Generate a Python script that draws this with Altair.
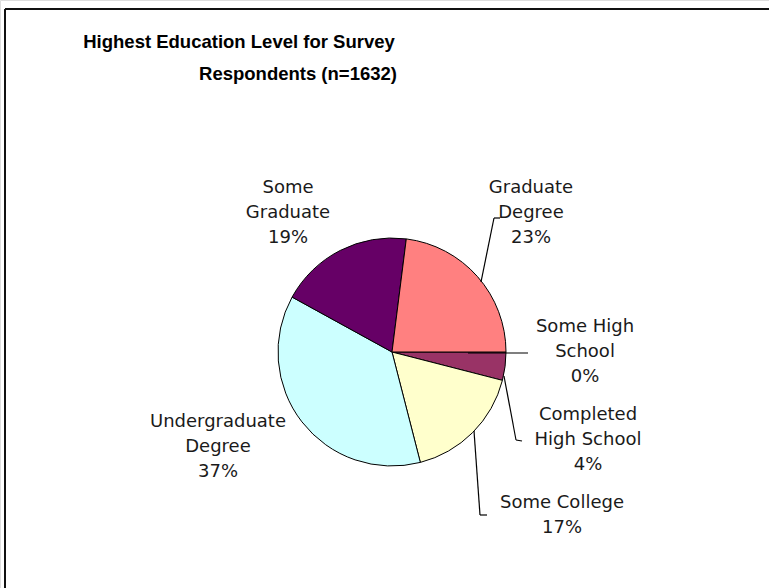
import math
import altair as alt
import pandas as pd

# ---- data ----
categories = ["Some High School", "Completed High School", "Some College",
              "Undergraduate Degree", "Some Graduate", "Graduate Degree"]
percents = [0, 4, 17, 37, 19, 23]
label_text = ["Some High\nSchool", "Completed\nHigh School", "Some College",
              "Undergraduate\nDegree", "Some\nGraduate", "Graduate\nDegree"]
title_lines = ["Highest Education Level for Survey", "Respondents (n=1632)"]

# ---- styles / layout ----
colors = ["#9999FF", "#993366", "#FFFFCC", "#CCFFFF", "#660066", "#FF8080"]
W, H = 769, 588
CX, CY, R = 392, 352, 114
label_x = [585, 588, 562, 218, 288, 531]
label_y = [327, 415, 503, 422, 188, 188]   # first-line centres
title_x = [239, 298]
title_y = [42, 74]
leaders = [  # x, y, x2, y2
    (481, 282, 494, 218), (494, 218, 500, 218),
    (468, 353, 528, 353),
    (504, 376, 516, 440), (516, 440, 522, 441),
    (474, 431, 480, 515), (480, 515, 487, 515),
]
frame = [(5, 9, W, 9), (5, 9, 5, H)]

pie_df = pd.DataFrame({"cat": categories, "pct": percents, "idx": range(len(categories))})
lab_df = pd.DataFrame({
    "txt": [f"{t}\n{p}%" for t, p in zip(label_text, percents)],
    "lx": label_x, "ly": label_y,
})
title_df = pd.DataFrame({"txt": title_lines, "tx": title_x, "ty": title_y})
lead_df = pd.DataFrame(leaders, columns=["x", "y", "x2", "y2"])
frame_df = pd.DataFrame(frame, columns=["x", "y", "x2", "y2"])

pie = alt.Chart(pie_df).mark_arc(outerRadius=R, stroke="black", strokeWidth=1).encode(
    theta=alt.Theta("pct:Q", stack=True,
                    scale=alt.Scale(range=[math.pi / 2, math.pi / 2 + 2 * math.pi])),
    color=alt.Color("cat:N", scale=alt.Scale(domain=categories, range=colors), legend=None),
    order=alt.Order("idx:Q"),
    x=alt.value(CX), y=alt.value(CY),
)

lead = alt.Chart(lead_df).mark_rule(color="black", strokeWidth=1.2).encode(
    x=alt.X("x:Q", scale=None), y=alt.Y("y:Q", scale=None),
    x2="x2:Q", y2="y2:Q",
)

frm = alt.Chart(frame_df).mark_rule(color="#111111", strokeWidth=2).encode(
    x=alt.X("x:Q", scale=None), y=alt.Y("y:Q", scale=None),
    x2="x2:Q", y2="y2:Q",
)

labels = alt.Chart(lab_df).mark_text(
    font="DejaVu Sans", fontSize=18, lineBreak="\n", lineHeight=25,
    align="center", baseline="middle", color="#1a1a1a",
).encode(
    x=alt.X("lx:Q", scale=None), y=alt.Y("ly:Q", scale=None), text="txt:N",
)

title = alt.Chart(title_df).mark_text(
    font="Liberation Sans", fontSize=18.5, fontWeight="bold",
    align="center", baseline="middle", color="black",
).encode(
    x=alt.X("tx:Q", scale=None), y=alt.Y("ty:Q", scale=None), text="txt:N",
)

chart = alt.layer(frm, pie, lead, labels, title).properties(
    width=W, height=H, padding=0, autosize=alt.AutoSizeParams(type="none"),
).configure_view(stroke=None).configure(background="white")

chart.save("out.html", embed_options={"renderer": "svg", "actions": False})
